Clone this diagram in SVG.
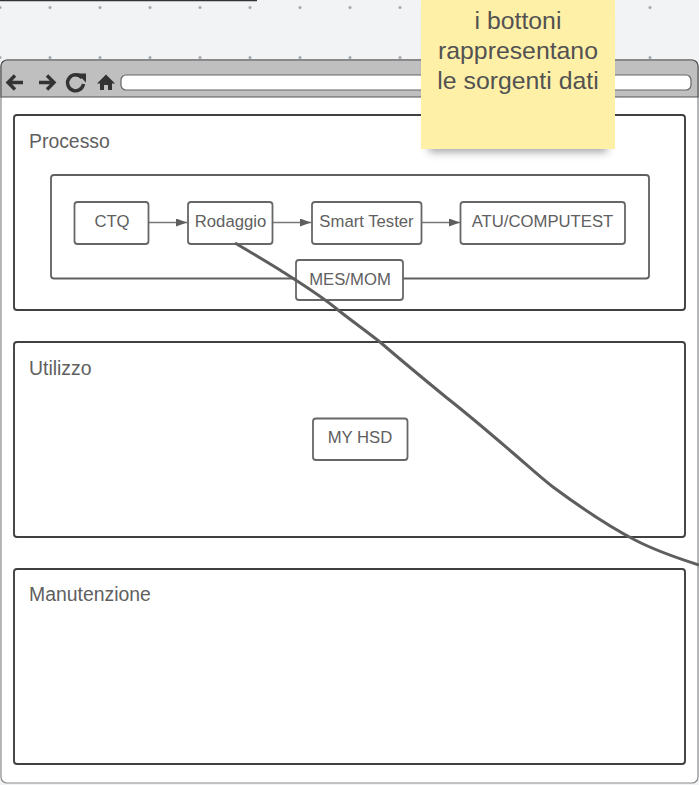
<svg xmlns="http://www.w3.org/2000/svg" width="699" height="785" viewBox="0 0 699 785">
<style>
text{font-family:"Liberation Sans",Arial,sans-serif;fill:#606060}
.lbl{font-size:16.700px;text-anchor:middle}
.title{font-size:19.400px}
.sticky{font-size:24.800px;text-anchor:middle;fill:#525252}
.box{fill:#fff;stroke:#676767;stroke-width:1.800}
.panel{fill:#fff;stroke:#404040;stroke-width:1.900}
.edge{stroke:#777;stroke-width:1.300;fill:none;marker-end:url(#arr)}
.icon{fill:#333;stroke:none}
.iconl{fill:none;stroke:#333;stroke-width:3.400}
</style>
<defs>
<marker id="arr" markerUnits="userSpaceOnUse" markerWidth="11" markerHeight="8" refX="11" refY="4" orient="auto"><path d="M0 0L11 4L0 8Z" fill="#5e5e5e"/></marker>
<filter id="sh" x="-20%" y="-20%" width="140%" height="140%"><feGaussianBlur stdDeviation="4"/></filter>
<g id="dotrow" fill="#a3a7ab"><circle cx="0" cy="0" r="1.500"/><circle cx="50" cy="0" r="1.500"/><circle cx="100" cy="0" r="1.500"/><circle cx="150" cy="0" r="1.500"/><circle cx="200" cy="0" r="1.500"/><circle cx="250" cy="0" r="1.500"/><circle cx="300" cy="0" r="1.500"/><circle cx="350" cy="0" r="1.500"/><circle cx="400" cy="0" r="1.500"/><circle cx="650" cy="0" r="1.500"/></g>
</defs>
<rect width="699" height="785" fill="#f1f3f5"/>
<use href="#dotrow" y="7.500"/>
<use href="#dotrow" y="57.500"/>
<path d="M0 .5H257" stroke="#333" stroke-width="1.400" fill="none"/>
<g id="browser">
<rect x="1" y="60" width="697" height="723" rx="6" fill="#fff" stroke="#8c8c8c" stroke-width="1.200"/>
<path d="M1 97V66a6 6 0 0 1 6-6H692a6 6 0 0 1 6 6V97Z" fill="#bfbfbf" stroke="#555" stroke-width="1.200"/>
<rect x="121" y="75" width="570" height="15" rx="5" fill="#fff" stroke="#666" stroke-width="1.200"/>
<path class="iconl" d="M23 82.500H9M15 75.500L8 82.500L15 89.500"/>
<path class="iconl" d="M39 82.500H53M47 75.500L54 82.500L47 89.500"/>
<path class="iconl" d="M82 78A8 8 0 1 0 83.500 84" stroke-width="4"/>
<path class="icon" d="M77 73.500H86V82.500Z"/>
<path class="icon" d="M106 74.500L115 83.500H112V90H108V85H104V90H100V83.500H97Z"/>
</g>
<g id="processo"><rect class="panel" x="14" y="115" width="671" height="195" rx="3"/><text class="title" x="29" y="147.500">Processo</text></g>
<g id="utilizzo"><rect class="panel" x="14" y="342" width="671" height="195" rx="3"/><text class="title" x="29" y="374.500">Utilizzo</text></g>
<g id="manutenzione"><rect class="panel" x="14" y="569" width="671" height="195" rx="3"/><text class="title" x="29" y="600.500">Manutenzione</text></g>
<g id="inner"><rect x="51" y="175" width="598" height="103.500" rx="3" fill="#fff" stroke="#606060" stroke-width="1.800"/></g>
<g id="connectors">
<path class="edge" d="M149 222.500H187"/>
<path class="edge" d="M273 222.500H311"/>
<path class="edge" d="M422 222.500H460"/>
</g>
<g id="ctq"><rect class="box" x="74.500" y="202" width="74" height="42" rx="3"/><text class="lbl" x="112" y="227">CTQ</text></g>
<g id="rodaggio"><rect class="box" x="188" y="202" width="84.500" height="42" rx="3"/><text class="lbl" x="230.500" y="227">Rodaggio</text></g>
<g id="smart-tester"><rect class="box" x="312" y="202" width="109.500" height="42" rx="3"/><text class="lbl" x="366.500" y="227">Smart Tester</text></g>
<g id="atu"><rect class="box" x="460.500" y="202" width="164.500" height="42" rx="3"/><text class="lbl" x="542.500" y="227">ATU/COMPUTEST</text></g>
<g id="mes"><rect class="box" x="296" y="260" width="107" height="40" rx="3"/><text class="lbl" x="350" y="285">MES/MOM</text></g>
<g id="myhsd"><rect class="box" x="313" y="418.500" width="94.500" height="41.500" rx="3"/><text class="lbl" x="360" y="443">MY HSD</text></g>
<g id="curve"><path d="M235 243C252 253 267 262 280 270C300 283 320 295 338 310C352 321 366 331 380 342C402 361 425 380 447 398C470 416 492 435 513 453C527 465 540 477 553 487C580 507 606 525 635 540C656 551 677 558 699 565" fill="none" stroke="#5e5e5e" stroke-width="3"/></g>
<g id="sticky">
<rect x="429" y="10" width="178" height="142" fill="#555" opacity=".55" filter="url(#sh)"/>
<rect x="421" y="0" width="194" height="149" fill="#fff0a8"/>
<text class="sticky" x="518" y="28.500">i bottoni</text>
<text class="sticky" x="518" y="59">rappresentano</text>
<text class="sticky" x="518" y="88.500">le sorgenti dati</text>
</g>
</svg>
